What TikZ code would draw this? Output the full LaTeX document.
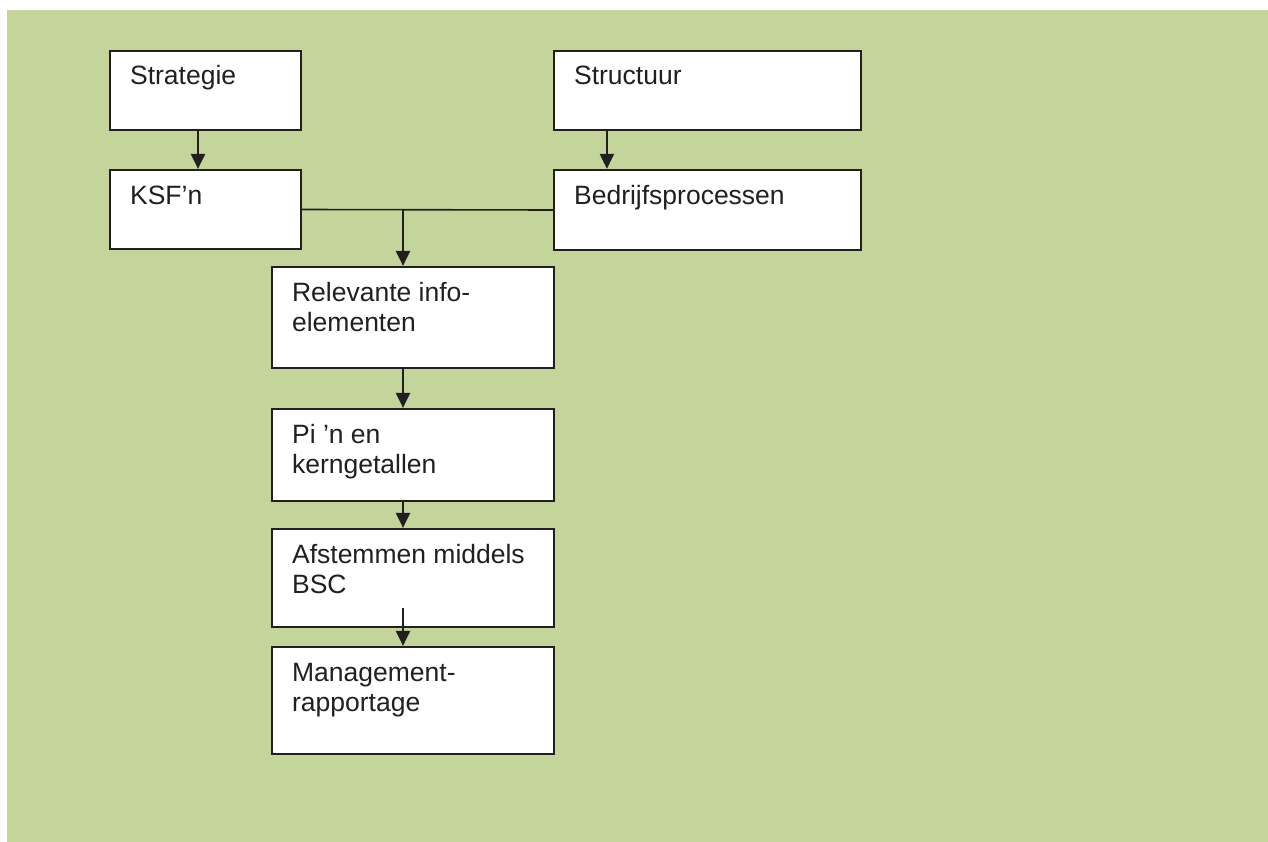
\documentclass[tikz,border=0pt]{standalone}
\usepackage{fontspec}
\setmainfont{Liberation Sans}
\usetikzlibrary{arrows.meta,calc}
\definecolor{bggreen}{HTML}{C4D59C}
\definecolor{ink}{HTML}{231F20}
\tikzset{
  box/.style={draw=ink, line width=2.2pt, fill=white, rectangle, inner sep=0pt},
  lbl/.style={anchor=base west, inner sep=0pt, text=ink, font=\fontsize{26.5}{30}\selectfont, align=left},
  arr/.style={draw=ink, line width=2.2pt, -{Triangle[width=14pt,length=15pt]}},
  conn/.style={draw=ink, line width=1.6pt}
}
\begin{document}
\begin{tikzpicture}[x=1pt,y=-1pt]
\useasboundingbox (0,0) rectangle (1268,842);
\fill[white] (0,0) rectangle (1268,842);
\fill[bggreen] (7,10) rectangle (1268,842);
% boxes
\node[box, minimum width=191pt, minimum height=79pt] (strat) at (205.5,90.5) {};
\node[box, minimum width=191pt, minimum height=79pt] (ksf) at (205.5,209.5) {};
\node[box, minimum width=307pt, minimum height=79pt] (struct) at (707.5,90.5) {};
\node[box, minimum width=307pt, minimum height=80pt] (bedr) at (707.5,210) {};
\node[box, minimum width=282pt, minimum height=101pt] (rel) at (413,317.5) {};
\node[box, minimum width=282pt, minimum height=92pt] (pi) at (413,455) {};
\node[box, minimum width=282pt, minimum height=98pt] (afst) at (413,578) {};
\node[box, minimum width=282pt, minimum height=107pt] (mgmt) at (413,700.5) {};
% labels
\node[lbl] (strat-t) at ($(strat.north west)+(21,35)$) {Strategie};
\node[lbl] (ksf-t) at ($(ksf.north west)+(21,36)$) {KSF’n};
\node[lbl] (struct-t) at ($(struct.north west)+(21,35)$) {Structuur};
\node[lbl] (bedr-t) at ($(bedr.north west)+(21,36)$) {Bedrijfsprocessen};
\node[lbl] (rel-t) at ($(rel.north west)+(21,66)$) {Relevante info-\\elementen};
\node[lbl] (pi-t) at ($(pi.north west)+(21,66)$) {Pi ’n en\\kerngetallen};
\node[lbl] (afst-t) at ($(afst.north west)+(21,66)$) {Afstemmen middels\\BSC};
\node[lbl] (mgmt-t) at ($(mgmt.north west)+(21,66)$) {Management-\\rapportage};
% connectors
\draw[arr] ([xshift=-7.5pt]strat.south) -- ([xshift=-7.5pt]ksf.north);
\draw[arr] ([xshift=54pt]struct.south west) -- ([xshift=54pt]bedr.north west);
\draw[conn] (ksf.east) -- (bedr.west);
\coordinate (j) at (403,210);
\draw[arr] (j) -- (j |- rel.north);
\draw[arr] ([xshift=-10pt]rel.south) -- ([xshift=-10pt]pi.north);
\draw[arr] ([xshift=-10pt]pi.south) -- ([xshift=-10pt]afst.north);
\coordinate (k) at (403,608);
\draw[arr] (k) -- (k |- mgmt.north);
\end{tikzpicture}
\end{document}
